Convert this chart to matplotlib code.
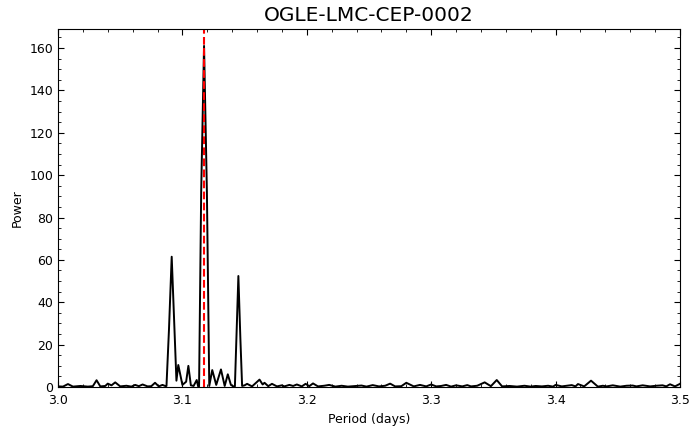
import matplotlib
matplotlib.use("Agg")
import matplotlib.pyplot as plt
from matplotlib.ticker import MultipleLocator

# periodogram: peaks and troughs
period = [3.000, 3.004, 3.008, 3.012, 3.018, 3.024, 3.028, 3.031, 3.034, 3.038,
          3.040, 3.043, 3.046, 3.050, 3.055, 3.059, 3.062, 3.065, 3.068, 3.072,
          3.075, 3.078, 3.081, 3.084, 3.0865,
          3.0872, 3.0892, 3.0914, 3.0936, 3.0952,
          3.0967, 3.1000, 3.1030, 3.1048, 3.1068, 3.1090, 3.1115, 3.1126,
          3.1134, 3.1151, 3.1174, 3.1197, 3.1216,
          3.1240, 3.1272, 3.1310, 3.1340, 3.1365, 3.1390, 3.1410,
          3.1422, 3.1434, 3.1450, 3.1466, 3.1480,
          3.1500, 3.1520, 3.1560, 3.1620, 3.1645, 3.1660, 3.1690, 3.1720,
          3.1760, 3.1800, 3.1820, 3.1860, 3.1890, 3.1920, 3.1960, 3.1990,
          3.2020, 3.2050, 3.2090, 3.2140, 3.2180, 3.2230, 3.2280, 3.2330,
          3.2390, 3.2440, 3.2480, 3.2530, 3.2580, 3.2630, 3.2670, 3.2710,
          3.2760, 3.2800, 3.2860, 3.2910, 3.2960, 3.3000, 3.3040, 3.3080,
          3.3120, 3.3160, 3.3200, 3.3250, 3.3290, 3.3320, 3.3370, 3.3430,
          3.3480, 3.3527, 3.3570, 3.3630, 3.3690, 3.3750, 3.3800, 3.3840,
          3.3890, 3.3940, 3.3980, 3.4000, 3.4050, 3.4090, 3.4130, 3.4160,
          3.4180, 3.4230, 3.4285, 3.4340, 3.4380, 3.4410, 3.4460, 3.4520,
          3.4570, 3.4620, 3.4650, 3.4700, 3.4760, 3.4810, 3.4860, 3.4890,
          3.4920, 3.4960, 3.5000]
power = [0.3, 0.2, 1.4, 0.2, 0.5, 0.2, 0.4, 3.2, 0.3, 0.5,
         1.6, 0.8, 2.2, 0.3, 0.6, 0.2, 1.0, 0.4, 1.2, 0.3,
         0.4, 2.0, 0.3, 1.0, 0.4,
         0.5, 27.0, 61.5, 27.0, 3.0,
         10.4, 1.0, 2.5, 10.0, 0.8, 0.5, 3.3, 0.4,
         0.3, 92.0, 161.0, 92.0, 0.5,
         8.0, 1.0, 8.3, 0.5, 6.0, 1.0, 0.3,
         0.3, 23.0, 52.4, 23.0, 0.5,
         0.8, 1.5, 0.3, 3.5, 1.2, 2.0, 0.4, 1.5,
         0.3, 0.8, 0.3, 1.0, 0.5, 1.2, 0.3, 1.5,
         0.4, 1.7, 0.3, 0.6, 1.0, 0.2, 0.6, 0.2,
         0.5, 0.7, 0.2, 0.9, 0.3, 0.6, 1.6, 0.3,
         0.4, 2.0, 0.3, 1.0, 0.3, 1.2, 0.3, 0.5,
         1.0, 0.2, 0.8, 0.3, 0.9, 0.3, 0.6, 2.2,
         0.4, 3.3, 0.3, 0.5, 0.2, 0.6, 0.2, 0.5,
         0.3, 0.6, 0.2, 1.0, 0.3, 0.6, 0.9, 0.3,
         1.4, 0.3, 3.0, 0.2, 0.6, 0.3, 0.8, 0.2,
         0.6, 0.7, 0.3, 0.8, 0.3, 0.6, 0.8, 0.3,
         1.3, 0.3, 1.5]

best_period = 3.1176
star = "OGLE-LMC-CEP-0002"

fig = plt.figure(figsize=(6.93, 4.26), dpi=100)
ax = fig.add_axes([0.0837, 0.0915, 0.8975, 0.8405])
ax.plot(period, power, color="black", lw=1.4)
ax.axvline(best_period, color="red", ls="--", lw=1.5)

ax.set_xlim(3.0, 3.5)
ax.set_ylim(0, 169)
ax.xaxis.set_major_locator(MultipleLocator(0.1))
ax.xaxis.set_minor_locator(MultipleLocator(0.02))
ax.yaxis.set_major_locator(MultipleLocator(20))
ax.yaxis.set_minor_locator(MultipleLocator(5))
ax.tick_params(which="both", direction="in", top=True, right=True, labelsize=9)
ax.tick_params(which="major", length=4)
ax.tick_params(which="minor", length=2)
ax.tick_params(axis="x", pad=5)

ax.set_xlabel("Period (days)", fontsize=9)
ax.set_ylabel("Power", fontsize=9)
ax.set_title(star, fontsize=14.5)

fig.savefig("out.png", dpi=100)
